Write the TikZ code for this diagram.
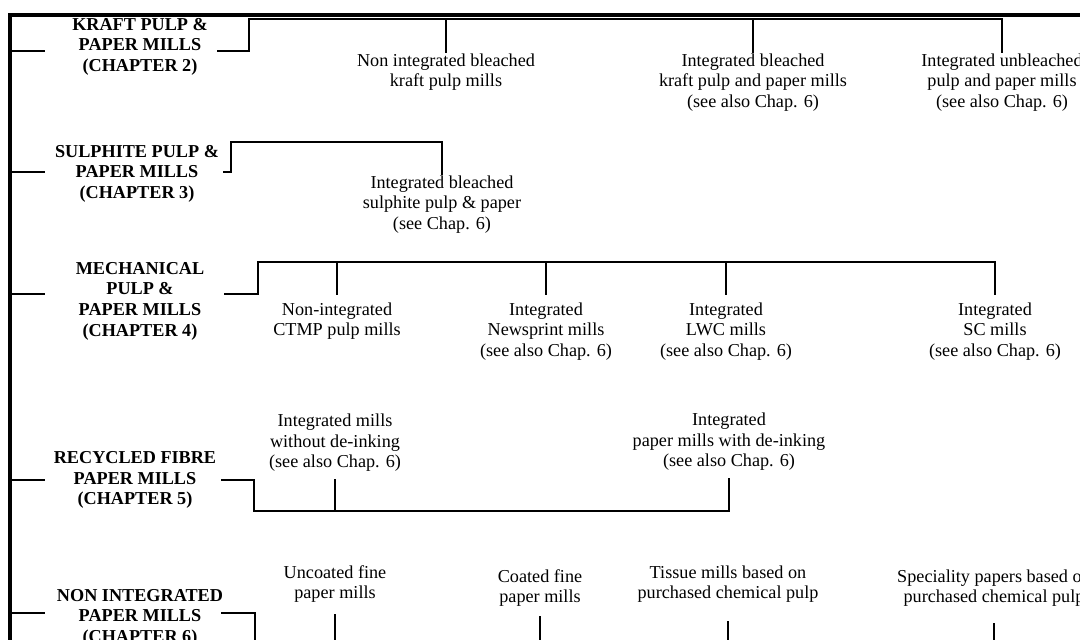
\documentclass[tikz,border=0pt]{standalone}
\usepackage{fontspec}
\setmainfont{Liberation Serif}

\begin{document}
\begin{tikzpicture}[x=0.5pt,y=-0.5pt,
    mill/.style={align=center,inner sep=0pt,font=\fontsize{9.1}{10.3}\selectfont},
    sector/.style={mill,font=\fontsize{9.1}{10.3}\selectfont\bfseries},
    hang/.style={mill,anchor=north,inner ysep=#1},
    hang/.default=0pt,
    rise/.style={mill,anchor=south,inner ysep=#1},
    rise/.default=0pt,
    link/.style={line width=0.9pt},
    rulebar/.style={line width=1.8pt}]
    \clip (0,0) rectangle (1080,639);
    % page frame
    \coordinate (spine) at (10,15);
    \draw[rulebar] (spine |- 0,660) -- (spine) -- (1090,15);
    % kraft
    \node (kraft) at (140,46.5) [sector] {KRAFT PULP \&\\PAPER MILLS\\(CHAPTER 2)};
    \node (knib) at (446,53) [hang] {Non integrated bleached\\kraft pulp mills};
    \node (kbl) at (753,53) [hang] {Integrated bleached\\kraft pulp and paper mills\\(see also Chap. 6)};
    \node (kunb) at (1002,53) [hang] {Integrated unbleached\\pulp and paper mills\\(see also Chap. 6)};
    \coordinate (kL) at (45,51);
    \coordinate (kR) at (217,51);
    \coordinate (kC) at (249,19);
    \draw[link] (spine |- kL) -- (kL);
    \draw[link] (kR) -- (kC |- kR) -- (kC) -- (kunb.north |- kC) -- (kunb.north);
    \draw[link] (knib.north |- kC) -- (knib.north);
    \draw[link] (kbl.north |- kC) -- (kbl.north);
    % sulphite
    \node (sulph) at (137,173.5) [sector] {SULPHITE PULP \&\\PAPER MILLS\\(CHAPTER 3)};
    \node (sbl) at (442,175) [hang] {Integrated bleached\\sulphite pulp \& paper\\(see Chap. 6)};
    \coordinate (sL) at (45,172);
    \coordinate (sR) at (223,172);
    \coordinate (sC) at (231,142);
    \draw[link] (spine |- sL) -- (sL);
    \draw[link] (sR) -- (sC |- sR) -- (sC) -- (sbl.north |- sC) -- (sbl.north);
    % mechanical
    \node (mech) at (140,301) [sector] {MECHANICAL\\PULP \&\\PAPER MILLS\\(CHAPTER 4)};
    \node (mctmp) at (337,295) [hang=3.5pt] {Non-integrated\\CTMP pulp mills};
    \node (mnews) at (546,295) [hang=3.5pt] {Integrated\\Newsprint mills\\(see also Chap. 6)};
    \node (mlwc) at (726,295) [hang=3.5pt] {Integrated\\LWC mills\\(see also Chap. 6)};
    \node (msc) at (995,295) [hang=3.5pt] {Integrated\\SC mills\\(see also Chap. 6)};
    \coordinate (mL) at (45,294);
    \coordinate (mR) at (224,294);
    \coordinate (mC) at (258,262);
    \draw[link] (spine |- mL) -- (mL);
    \draw[link] (mR) -- (mC |- mR) -- (mC) -- (msc.north |- mC) -- (msc.north);
    \draw[link] (mctmp.north |- mC) -- (mctmp.north);
    \draw[link] (mnews.north |- mC) -- (mnews.north);
    \draw[link] (mlwc.north |- mC) -- (mlwc.north);
    % recycled fibre
    \node (recyc) at (135,480) [sector] {RECYCLED FIBRE\\PAPER MILLS\\(CHAPTER 5)};
    \node (rwo) at (335,479) [rise=3.5pt] {Integrated mills\\without de-inking\\(see also Chap. 6)};
    \node (rwi) at (729,478) [rise=3.5pt] {Integrated\\paper mills with de-inking\\(see also Chap. 6)};
    \coordinate (rL) at (45,480);
    \coordinate (rR) at (221,480);
    \coordinate (rC) at (254,511);
    \draw[link] (spine |- rL) -- (rL);
    \draw[link] (rR) -- (rC |- rR) -- (rC) -- (rwi.south |- rC) -- (rwi.south);
    \draw[link] (rwo.south |- rC) -- (rwo.south);
    % non integrated
    \node (nonint) at (140,617.5) [sector] {NON INTEGRATED\\PAPER MILLS\\(CHAPTER 6)};
    \node (nunc) at (335,614) [rise=5.5pt] {Uncoated fine\\paper mills};
    \node (ncoat) at (540,616) [rise=4.5pt] {Coated fine\\paper mills};
    \node (ntis) at (728,621) [rise=9pt] {Tissue mills based on\\purchased chemical pulp};
    \node (nspec) at (994,623) [rise=8pt] {Speciality papers based on\\purchased chemical pulp};
    \coordinate (nL) at (45,613);
    \coordinate (nR) at (221,613);
    \coordinate (nC) at (255,650);
    \draw[link] (spine |- nL) -- (nL);
    \draw[link] (nR) -- (nC |- nR) -- (nC);
    \draw[link] (nunc.south) -- (nunc.south |- nC);
    \draw[link] (ncoat.south) -- (ncoat.south |- nC);
    \draw[link] (ntis.south) -- (ntis.south |- nC);
    \draw[link] (nspec.south) -- (nspec.south |- nC);
\end{tikzpicture}
\end{document}
